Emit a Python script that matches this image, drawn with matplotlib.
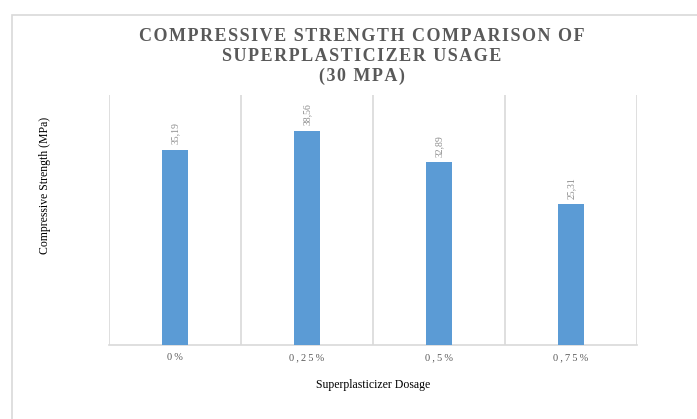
import matplotlib.pyplot as plt
from matplotlib.patches import Rectangle

dosages = ["0%", "0,25%", "0,5%", "0,75%"]
strength = [35.19, 38.56, 32.89, 25.31]
value_labels = ["35,19", "38,56", "32,89", "25,31"]

plt.rcParams['font.family'] = ['Liberation Serif', 'DejaVu Serif']

fig = plt.figure(figsize=(6.97, 4.19), dpi=100)
# plot area in pixels: x 109..637, y 95..345 (from top)
ax = fig.add_axes([109 / 697, 1 - 345 / 419, 528 / 697, 250 / 419])

# outer chart border, cut off at right and bottom
fig.patches.append(Rectangle((12 / 697, -0.1), 1.0, 1.1 - 15 / 419, transform=fig.transFigure,
                             fill=False, edgecolor="#d9d9d9", linewidth=1.2))

x = range(len(dosages))
bars = ax.bar(x, strength, width=0.19, color="#5b9bd5", zorder=3)

ax.set_xlim(-0.5, len(dosages) - 0.5)
ax.set_ylim(0, 45)

# category separators
for sep in [-0.5, 0.5, 1.5, 2.5, 3.5]:
    ax.axvline(sep, color="#d9d9d9", linewidth=1.2, zorder=1)

for s in ["top", "left", "right"]:
    ax.spines[s].set_visible(False)
ax.spines["bottom"].set_color("#d9d9d9")
ax.spines["bottom"].set_linewidth(1.2)

ax.set_yticks([])
ax.set_xticks(list(x))
spaced = ["\u2009".join(list(d)) for d in dosages]
ax.set_xticklabels(spaced, fontsize=7.5, color="#595959")
ax.tick_params(axis="x", length=0, pad=6)

for xi, v, lab in zip(x, strength, value_labels):
    ax.annotate(lab, (xi, v), xytext=(0, 4), textcoords="offset points",
                rotation=90, ha="center", va="bottom", fontsize=7, color="#8c8c8c")

ax.set_xlabel("Superplasticizer Dosage", fontsize=8.5, labelpad=12)
fig.text(45 / 697, 1 - 185 / 419, "Compressive Strength (MPa)", rotation=90,
         ha="center", va="center", fontsize=8.5)

title_lines = ["COMPRESSIVE STRENGTH COMPARISON OF", "SUPERPLASTICIZER USAGE", "(30 MPA)"]
title = "\n".join("\u200a".join(list(t)) for t in title_lines)
fig.text(362 / 697, 1 - 56.5 / 419, title,
         ha="center", va="center", fontsize=13, fontweight="bold", color="#595959",
         linespacing=1.2)

plt.savefig("out.png", dpi=100)
